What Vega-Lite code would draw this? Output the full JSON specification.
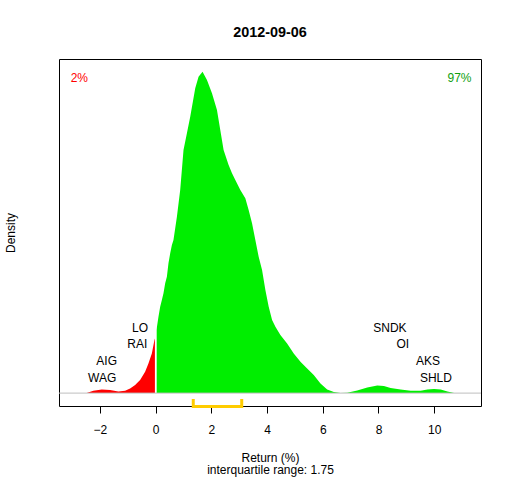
{
  "$schema": "https://vega.github.io/schema/vega-lite/v6.json",
  "width": 422,
  "height": 347,
  "autosize": "none",
  "padding": {"left": 59, "top": 59, "right": 31, "bottom": 74},
  "background": "white",
  "title": {"text": "2012-09-06", "fontSize": 14.4, "fontWeight": "bold", "color": "black", "anchor": "middle", "baseline": "alphabetic", "offset": 8},
  "datasets": {
    "density": [
      {"x": -2.475, "y": 0, "g": "lo"},
      {"x": -2.237, "y": 0.0023, "g": "lo"},
      {"x": -1.935, "y": 0.0037, "g": "lo"},
      {"x": -1.637, "y": 0.003, "g": "lo"},
      {"x": -1.338, "y": 0.0017, "g": "lo"},
      {"x": -1.097, "y": 0.0023, "g": "lo"},
      {"x": -0.917, "y": 0.0047, "g": "lo"},
      {"x": -0.737, "y": 0.008, "g": "lo"},
      {"x": -0.558, "y": 0.013, "g": "lo"},
      {"x": -0.378, "y": 0.0213, "g": "lo"},
      {"x": -0.259, "y": 0.0297, "g": "lo"},
      {"x": -0.137, "y": 0.0397, "g": "lo"},
      {"x": -0.043, "y": 0.053, "g": "lo"},
      {"x": 0, "y": 0.0563, "g": "lo"},
      {"x": 0.03, "y": 0.063, "g": "hi"},
      {"x": 0.101, "y": 0.0763, "g": "hi"},
      {"x": 0.162, "y": 0.0863, "g": "hi"},
      {"x": 0.223, "y": 0.093, "g": "hi"},
      {"x": 0.281, "y": 0.0997, "g": "hi"},
      {"x": 0.342, "y": 0.1097, "g": "hi"},
      {"x": 0.403, "y": 0.1163, "g": "hi"},
      {"x": 0.46, "y": 0.1297, "g": "hi"},
      {"x": 0.522, "y": 0.1397, "g": "hi"},
      {"x": 0.583, "y": 0.148, "g": "hi"},
      {"x": 0.64, "y": 0.153, "g": "hi"},
      {"x": 0.763, "y": 0.1763, "g": "hi"},
      {"x": 0.881, "y": 0.203, "g": "hi"},
      {"x": 1.0, "y": 0.243, "g": "hi"},
      {"x": 1.122, "y": 0.2597, "g": "hi"},
      {"x": 1.241, "y": 0.2763, "g": "hi"},
      {"x": 1.421, "y": 0.3047, "g": "hi"},
      {"x": 1.54, "y": 0.3163, "g": "hi"},
      {"x": 1.683, "y": 0.3213, "g": "hi"},
      {"x": 1.842, "y": 0.313, "g": "hi"},
      {"x": 2.022, "y": 0.2997, "g": "hi"},
      {"x": 2.201, "y": 0.283, "g": "hi"},
      {"x": 2.32, "y": 0.263, "g": "hi"},
      {"x": 2.439, "y": 0.243, "g": "hi"},
      {"x": 2.619, "y": 0.228, "g": "hi"},
      {"x": 2.741, "y": 0.2197, "g": "hi"},
      {"x": 2.86, "y": 0.213, "g": "hi"},
      {"x": 3.04, "y": 0.203, "g": "hi"},
      {"x": 3.219, "y": 0.1947, "g": "hi"},
      {"x": 3.338, "y": 0.183, "g": "hi"},
      {"x": 3.46, "y": 0.1697, "g": "hi"},
      {"x": 3.579, "y": 0.153, "g": "hi"},
      {"x": 3.698, "y": 0.1363, "g": "hi"},
      {"x": 3.82, "y": 0.123, "g": "hi"},
      {"x": 3.939, "y": 0.103, "g": "hi"},
      {"x": 4.058, "y": 0.0863, "g": "hi"},
      {"x": 4.18, "y": 0.073, "g": "hi"},
      {"x": 4.299, "y": 0.0663, "g": "hi"},
      {"x": 4.478, "y": 0.058, "g": "hi"},
      {"x": 4.719, "y": 0.0497, "g": "hi"},
      {"x": 4.957, "y": 0.0397, "g": "hi"},
      {"x": 5.198, "y": 0.0313, "g": "hi"},
      {"x": 5.439, "y": 0.0247, "g": "hi"},
      {"x": 5.676, "y": 0.018, "g": "hi"},
      {"x": 5.917, "y": 0.0097, "g": "hi"},
      {"x": 6.158, "y": 0.0037, "g": "hi"},
      {"x": 6.396, "y": 0.001, "g": "hi"},
      {"x": 6.637, "y": 0, "g": "hi"},
      {"x": 6.878, "y": 0.0003, "g": "hi"},
      {"x": 7.237, "y": 0.0027, "g": "hi"},
      {"x": 7.597, "y": 0.0057, "g": "hi"},
      {"x": 7.957, "y": 0.0077, "g": "hi"},
      {"x": 8.194, "y": 0.007, "g": "hi"},
      {"x": 8.435, "y": 0.005, "g": "hi"},
      {"x": 8.795, "y": 0.0037, "g": "hi"},
      {"x": 9.155, "y": 0.0023, "g": "hi"},
      {"x": 9.514, "y": 0.0023, "g": "hi"},
      {"x": 9.755, "y": 0.0037, "g": "hi"},
      {"x": 9.993, "y": 0.004, "g": "hi"},
      {"x": 10.234, "y": 0.0037, "g": "hi"},
      {"x": 10.475, "y": 0.0017, "g": "hi"},
      {"x": 10.712, "y": 0, "g": "hi"}
    ],
    "tickers": [
      {"x": -0.56, "y": 0.0655, "label": "LO"},
      {"x": -0.66, "y": 0.049, "label": "RAI"},
      {"x": -1.76, "y": 0.032, "label": "AIG"},
      {"x": -1.92, "y": 0.0155, "label": "WAG"},
      {"x": 8.41, "y": 0.0655, "label": "SNDK"},
      {"x": 8.87, "y": 0.049, "label": "OI"},
      {"x": 9.78, "y": 0.032, "label": "AKS"},
      {"x": 10.06, "y": 0.0155, "label": "SHLD"}
    ],
    "iqr": [
      {"x": 1.35, "y": -0.006, "o": 1},
      {"x": 1.35, "y": -0.0135, "o": 2},
      {"x": 3.09, "y": -0.0135, "o": 3},
      {"x": 3.09, "y": -0.006, "o": 4}
    ]
  },
  "layer": [
    {
      "data": {"name": "density"},
      "mark": {"type": "area", "interpolate": "linear"},
      "encoding": {
        "x": {
          "field": "x", "type": "quantitative",
          "scale": {"domain": [-3.47, 11.68], "nice": false, "zero": false},
          "axis": {
            "values": [-2, 0, 2, 4, 6, 8, 10],
            "grid": false, "domain": false,
            "tickSize": 7, "tickColor": "black",
            "labelFontSize": 12, "labelColor": "black", "labelPadding": 11,
            "title": ["Return (%)", "interquartile range: 1.75"],
            "titleFontSize": 12, "titleFontWeight": "normal", "titleColor": "black",
            "titlePadding": 17, "titleLineHeight": 12.7
          }
        },
        "y": {
          "field": "y", "type": "quantitative", "stack": null,
          "scale": {"domain": [-0.0129, 0.334], "nice": false, "zero": false},
          "axis": {
            "grid": false, "domain": false, "ticks": false, "labels": false,
            "title": "Density", "titleFontSize": 12, "titleFontWeight": "normal",
            "titleColor": "black", "titlePadding": 42
          }
        },
        "color": {
          "field": "g", "type": "nominal",
          "scale": {"domain": ["lo", "hi"], "range": ["#FF0000", "#00EE00"]},
          "legend": null
        }
      }
    },
    {
      "data": {"values": [{"x": 0, "y": 0, "y2": 0.066}]},
      "mark": {"type": "rule", "color": "white", "strokeWidth": 1.5},
      "encoding": {
        "x": {"field": "x", "type": "quantitative", "scale": {"domain": [-3.47, 11.68], "nice": false, "zero": false}},
        "y": {"field": "y", "type": "quantitative", "scale": {"domain": [-0.0129, 0.334], "nice": false, "zero": false}},
        "y2": {"field": "y2"}
      }
    },
    {
      "data": {"values": [{"y": 0}]},
      "mark": {"type": "rule", "color": "#BEBEBE", "strokeWidth": 1},
      "encoding": {
        "y": {"field": "y", "type": "quantitative", "scale": {"domain": [-0.0129, 0.334], "nice": false, "zero": false}}
      }
    },
    {
      "data": {"name": "iqr"},
      "mark": {"type": "line", "color": "#FFCC00", "strokeWidth": 3, "strokeCap": "butt", "strokeJoin": "miter"},
      "encoding": {
        "x": {"field": "x", "type": "quantitative", "scale": {"domain": [-3.47, 11.68], "nice": false, "zero": false}},
        "y": {"field": "y", "type": "quantitative", "scale": {"domain": [-0.0129, 0.334], "nice": false, "zero": false}},
        "order": {"field": "o", "type": "quantitative"}
      }
    },
    {
      "data": {"name": "tickers"},
      "mark": {"type": "text", "fontSize": 12, "color": "black", "align": "center", "baseline": "middle"},
      "encoding": {
        "x": {"field": "x", "type": "quantitative", "scale": {"domain": [-3.47, 11.68], "nice": false, "zero": false}},
        "y": {"field": "y", "type": "quantitative", "scale": {"domain": [-0.0129, 0.334], "nice": false, "zero": false}},
        "text": {"field": "label", "type": "nominal"}
      }
    },
    {
      "data": {"values": [{"x": -3.05, "y": 0.3153, "label": "2%"}]},
      "mark": {"type": "text", "fontSize": 12, "color": "#FF0000", "align": "left", "baseline": "middle"},
      "encoding": {
        "x": {"field": "x", "type": "quantitative", "scale": {"domain": [-3.47, 11.68], "nice": false, "zero": false}},
        "y": {"field": "y", "type": "quantitative", "scale": {"domain": [-0.0129, 0.334], "nice": false, "zero": false}},
        "text": {"field": "label", "type": "nominal"}
      }
    },
    {
      "data": {"values": [{"x": 11.34, "y": 0.3153, "label": "97%"}]},
      "mark": {"type": "text", "fontSize": 12, "color": "#10A010", "align": "right", "baseline": "middle"},
      "encoding": {
        "x": {"field": "x", "type": "quantitative", "scale": {"domain": [-3.47, 11.68], "nice": false, "zero": false}},
        "y": {"field": "y", "type": "quantitative", "scale": {"domain": [-0.0129, 0.334], "nice": false, "zero": false}},
        "text": {"field": "label", "type": "nominal"}
      }
    }
  ],
  "config": {
    "font": "Liberation Sans",
    "view": {"stroke": "black", "strokeWidth": 1},
    "axis": {"labelFont": "Liberation Sans", "titleFont": "Liberation Sans"}
  }
}
